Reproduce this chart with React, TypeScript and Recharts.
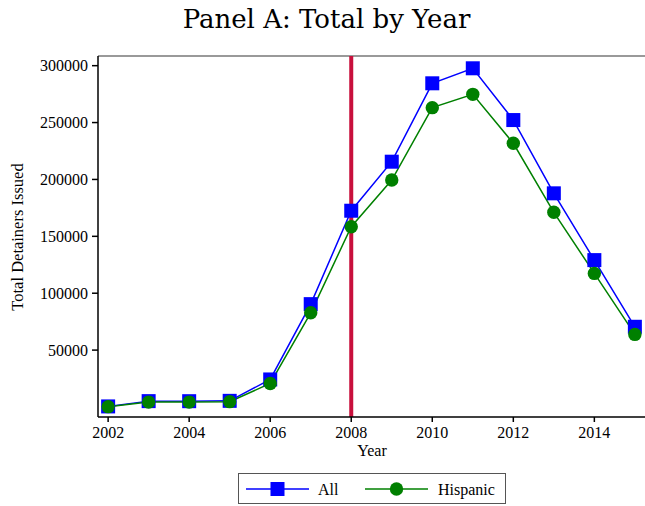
import React from "react";
import { LineChart, Line, XAxis, YAxis, ReferenceLine } from "recharts";

const years = [2002, 2003, 2004, 2005, 2006, 2007, 2008, 2009, 2010, 2011, 2012, 2013, 2014, 2015];
const allDetainers = [500, 5150, 5100, 5400, 24200, 90400, 172500, 215600, 284500, 297700, 252200, 187800, 129100, 70500];
const hispanicDetainers = [300, 4300, 4300, 4700, 20700, 82800, 158400, 199500, 263100, 274800, 231800, 171100, 117400, 63800];
const xTicks = [2002, 2004, 2006, 2008, 2010, 2012, 2014];
const yTicks = [50000, 100000, 150000, 200000, 250000, 300000];
const policyYear = 2008;

const FONT = "'Liberation Serif', 'Times New Roman', serif";
const TITLE_FONT = "'DejaVu Serif', serif";
const BLUE = "#0000ff";
const GREEN = "#008000";

const data = years.map((year, i) => ({
  year,
  all: allDetainers[i],
  hispanic: hispanicDetainers[i],
}));

const SquareDot = (props: any) => {
  const { cx, cy } = props;
  if (cx == null || cy == null) return null;
  return <rect x={cx - 7} y={cy - 7} width={14} height={14} fill={BLUE} />;
};

const CircleDot = (props: any) => {
  const { cx, cy } = props;
  if (cx == null || cy == null) return null;
  return <circle cx={cx} cy={cy} r={6.7} fill={GREEN} />;
};

export default function App() {
  const tick = { fontSize: 16, fontFamily: FONT, fill: "#000" };
  return (
    <div style={{ position: "absolute", left: 0, top: 0, width: 645, height: 506, background: "#fff" }}>
      <div
        style={{
          position: "absolute",
          left: 4,
          top: 6,
          width: 645,
          textAlign: "center",
          fontFamily: TITLE_FONT,
          fontSize: 26,
          fontWeight: 300,
          lineHeight: "26px",
          color: "#000",
        }}
      >
        Panel A: Total by Year
      </div>
      <LineChart
        width={645}
        height={506}
        data={data}
        margin={{ top: 56, right: 0, bottom: 59, left: 0 }}
      >
        <XAxis
          dataKey="year"
          type="number"
          domain={[2001.75, 2015.25]}
          ticks={xTicks}
          allowDataOverflow
          height={30}
          tick={tick}
          tickSize={5}
          tickMargin={5}
          stroke="#000"
          strokeWidth={1.5}
        />
        <YAxis
          type="number"
          domain={[-8800, 308500]}
          ticks={yTicks}
          allowDataOverflow
          width={98}
          tick={tick}
          tickSize={6}
          tickMargin={4}
          stroke="#000"
          strokeWidth={1.5}
        />
        <ReferenceLine y={308500} stroke="#777" strokeWidth={1.5} />
        <ReferenceLine x={policyYear} stroke="#c8103c" strokeWidth={4} />
        <Line
          dataKey="all"
          stroke={BLUE}
          strokeWidth={1.5}
          dot={<SquareDot />}
          activeDot={false}
          isAnimationActive={false}
        />
        <Line
          dataKey="hispanic"
          stroke={GREEN}
          strokeWidth={1.5}
          dot={<CircleDot />}
          activeDot={false}
          isAnimationActive={false}
        />
      </LineChart>
      <div
        style={{
          position: "absolute",
          left: 0,
          top: 227,
          width: 36,
          height: 20,
          transform: "rotate(-90deg)",
          transformOrigin: "18px 10px",
          whiteSpace: "nowrap",
          display: "flex",
          justifyContent: "center",
          fontFamily: FONT,
          fontSize: 16.5,
          lineHeight: "20px",
        }}
      >
        Total Detainers Issued
      </div>
      <div
        style={{
          position: "absolute",
          left: 352,
          top: 443,
          width: 40,
          textAlign: "center",
          fontFamily: FONT,
          fontSize: 16,
          lineHeight: "16px",
        }}
      >
        Year
      </div>
      <div
        style={{
          position: "absolute",
          left: 238,
          top: 473,
          width: 266,
          height: 29,
          border: "1px solid #555",
        }}
      >
        <svg width={266} height={29} style={{ position: "absolute", left: 0, top: 0 }}>
          <line x1={7} y1={15} x2={70} y2={15} stroke={BLUE} strokeWidth={1.5} />
          <rect x={31.5} y={8} width={14} height={14} fill={BLUE} />
          <text x={79} y={20.5} fontFamily={FONT} fontSize={16} fill="#000">All</text>
          <line x1={126} y1={15} x2={189} y2={15} stroke={GREEN} strokeWidth={1.5} />
          <circle cx={157.5} cy={15} r={6.7} fill={GREEN} />
          <text x={199} y={20.5} fontFamily={FONT} fontSize={16} fill="#000">Hispanic</text>
        </svg>
      </div>
    </div>
  );
}
